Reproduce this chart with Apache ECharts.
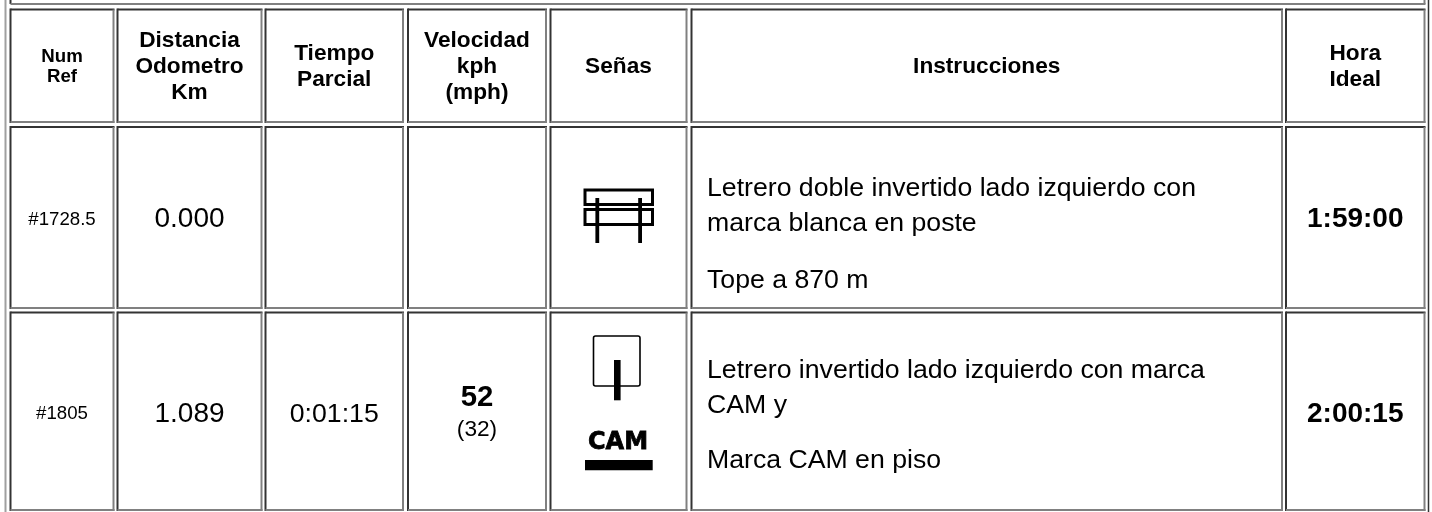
<!DOCTYPE html>
<html>
<head>
<meta charset="utf-8">
<title>Tabla de ruta</title>
<script src="https://cdn.jsdelivr.net/npm/echarts@6/dist/echarts.min.js"></script>
<style>
  html, body { margin: 0; padding: 0; background: #fff; }
  #chart { width: 1432px; height: 512px; }
</style>
</head>
<body>
<div id="chart"></div>
<script>
// table content
const headers = [
  ['Num', 'Ref'],
  ['Distancia', 'Odometro', 'Km'],
  ['Tiempo', 'Parcial'],
  ['Velocidad', 'kph', '(mph)'],
  ['Señas'],
  ['Instrucciones'],
  ['Hora', 'Ideal']
]
const numRef = ['#1728.5', '#1805']
const distance = ['0.000', '1.089']
const partial = ['', '0:01:15']
const speedKph = ['', '52']
const speedMph = ['', '(32)']
const instructions = [
  ['Letrero doble invertido lado izquierdo con', 'marca blanca en poste', 'Tope a 870 m'],
  ['Letrero invertido lado izquierdo con marca', 'CAM y', 'Marca CAM en piso']
]
const idealTime = ['1:59:00', '2:00:15']

// layout of the table, in axis units (1 unit = 1px)
const colEdges = [[10.5, 113.5], [117.5, 261.5], [265.5, 403], [408, 546], [550.5, 686.5], [691.5, 1282], [1286, 1424.5]]
const rowEdges = [[9.5, 122], [127, 308], [312.5, 510]]
const topRowBottom = 4
const outerLeft = 5.5
const outerRight = 1428.5
const instructionLineY = [[189, 224, 281], [371, 406, 461]]
const rowTextOffset = [2, 3]
const headerTextOffset = 1

const FONT = '"Liberation Sans", Arial, sans-serif'
const DARK = '#333333'
const GRAY = '#808080'

function cellShape(api, x0, y0, x1, y1) {
  const a = api.coord([x0, y0])
  const b = api.coord([x1, y1])
  const line = (x1_, y1_, x2_, y2_, c) => ({
    type: 'line',
    shape: { x1: x1_, y1: y1_, x2: x2_, y2: y2_ },
    style: { stroke: c, lineWidth: 2 }
  })
  return [
    line(a[0], a[1] - 1, a[0], b[1] + 1, DARK),
    line(a[0], a[1], b[0] + 1, a[1], DARK),
    line(b[0], a[1], b[0], b[1] + 1, GRAY),
    line(a[0], b[1], b[0] + 1, b[1], GRAY)
  ]
}

// one data item per cell: [col, row]
const cellData = []
rowEdges.forEach((r, i) => colEdges.forEach((c, j) => cellData.push([j, i])))

function renderCell(params, api) {
  const c = colEdges[api.value(0)]
  const r = rowEdges[api.value(1)]
  return { type: 'group', children: cellShape(api, c[0], r[0], c[1], r[1]) }
}

function renderFrame(params, api) {
  const a = api.coord([outerLeft, 0])
  const b = api.coord([outerRight, 512])
  const t = api.coord([colEdges[0][0], topRowBottom])
  const e = api.coord([colEdges[6][1], topRowBottom])
  const v = (x, y0, y1, c, w) => ({
    type: 'line', shape: { x1: x, y1: y0, x2: x, y2: y1 }, style: { stroke: c, lineWidth: w }
  })
  return {
    type: 'group',
    children: [
      v(a[0], a[1], b[1], '#a0a0a0', 2),
      v(b[0], a[1], b[1], DARK, 1.5),
      v(t[0], 0, t[1], DARK, 2),
      v(e[0], 0, t[1], GRAY, 2),
      { type: 'line', shape: { x1: t[0], y1: t[1], x2: e[0] + 1, y2: t[1] }, style: { stroke: GRAY, lineWidth: 2 } }
    ]
  }
}

// text items: [x, y, text, fontSize, bold (0/1), align (0 center, 1 left)]
const textData = []
const colMid = j => (colEdges[j][0] + colEdges[j][1]) / 2
const rowMid = i => (rowEdges[i][0] + rowEdges[i][1]) / 2
headers.forEach((lines, j) => {
  const size = j === 0 ? 18.67 : 22.67
  const lh = j === 0 ? 20.7 : 26.3
  lines.forEach((t, k) => {
    textData.push([colMid(j), rowMid(0) + headerTextOffset + (k - (lines.length - 1) / 2) * lh, t, size, 1, 0])
  })
})
numRef.forEach((t, i) => {
  const y = rowMid(i + 1) + rowTextOffset[i]
  textData.push([colMid(0), y, t, 18.67, 0, 0])
  textData.push([colMid(1), y, distance[i], 28, 0, 0])
  textData.push([colMid(2), y, partial[i], 26.67, 0, 0])
  textData.push([colMid(3), y - 16, speedKph[i], 29.33, 1, 0])
  textData.push([colMid(3), y + 15, speedMph[i], 22.67, 0, 0])
  instructions[i].forEach((t2, k) => textData.push([707, instructionLineY[i][k], t2, 26.67, 0, 1]))
  textData.push([colMid(6), y, idealTime[i], 28, 1, 0])
})

function renderText(params, api) {
  const p = api.coord([api.value(0), api.value(1)])
  const item = textData[params.dataIndex]
  return {
    type: 'text',
    x: p[0],
    y: p[1],
    style: {
      text: item[2],
      fontFamily: FONT,
      fontSize: item[3],
      fontWeight: item[4] ? 'bold' : 'normal',
      fill: '#000',
      align: item[5] ? 'left' : 'center',
      verticalAlign: 'middle'
    }
  }
}

// road sign drawings, in the same pixel units
const signRects = [
  [585, 190, 67.5, 14.5, 3],
  [585, 209.5, 67.5, 15, 3],
  [593.5, 336, 46.5, 50, 1.6]
]
const signBars = [
  [595.4, 198, 3.8, 45],
  [638.2, 198, 3.8, 45],
  [614, 360, 6.6, 40.3],
  [585, 460, 67.7, 10.3]
]
const camLabel = ['CAM']

function renderSigns(params, api) {
  const kids = []
  signRects.forEach(s => {
    const a = api.coord([s[0], s[1]])
    kids.push({
      type: 'rect',
      shape: { x: a[0], y: a[1], width: s[2], height: s[3], r: s[4] < 2 ? 2 : 0 },
      style: { fill: 'none', stroke: '#000', lineWidth: s[4] }
    })
  })
  signBars.forEach(s => {
    const a = api.coord([s[0], s[1]])
    kids.push({
      type: 'rect',
      shape: { x: a[0], y: a[1], width: s[2], height: s[3] },
      style: { fill: '#000' }
    })
  })
  const c = api.coord([618, 443])
  kids.push({
    type: 'text', x: c[0], y: c[1],
    style: {
      text: camLabel[0], fontFamily: '"DejaVu Sans"', fontWeight: 'bold', fontSize: 24,
      fill: '#000', stroke: '#000', lineWidth: 0.8, align: 'center', verticalAlign: 'middle'
    }
  })
  return { type: 'group', children: kids }
}

const chart = echarts.init(document.getElementById('chart'), null, { renderer: 'canvas' })
chart.setOption({
  animation: false,
  backgroundColor: '#fff',
  grid: { left: 0, right: 0, top: 0, bottom: 0 },
  xAxis: { type: 'value', min: 0, max: 1432, show: false },
  yAxis: { type: 'value', min: 0, max: 512, inverse: true, show: false },
  series: [
    { type: 'custom', renderItem: renderFrame, data: [[0, 0]], clip: false, silent: true },
    { type: 'custom', renderItem: renderCell, data: cellData, clip: false, silent: true },
    { type: 'custom', renderItem: renderSigns, data: [[0, 0]], clip: false, silent: true },
    {
      type: 'custom',
      renderItem: renderText,
      data: textData.map(d => [d[0], d[1]]),
      clip: false,
      silent: true
    }
  ]
})
</script>
</body>
</html>
